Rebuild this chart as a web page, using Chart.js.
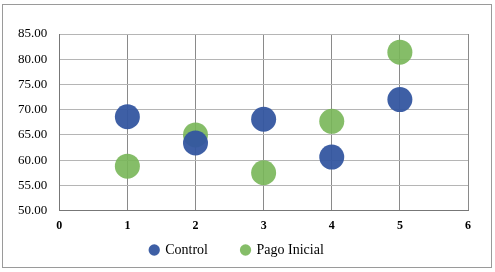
<!DOCTYPE html>
<html>
<head>
<meta charset="utf-8">
<script src="https://cdn.jsdelivr.net/npm/chart.js@4/dist/chart.umd.min.js"></script>
<style>
  html, body { margin: 0; padding: 0; background: #fff; }
  #frame {
    position: absolute; left: 2px; top: 4px;
    width: 490px; height: 264px;
    border: 1px solid #9a9a9a; box-sizing: border-box;
  }
  #chart { display: block; }
</style>
</head>
<body>
<div id="frame"><canvas id="chart" width="488" height="262"></canvas></div>
<script>
// Bubble chart: Control vs Pago Inicial, values per group 1..5

const groups      = [1, 2, 3, 4, 5];
const controlVals = [68.6, 63.4, 68.1, 60.6, 72.0];
const pagoVals    = [58.8, 65.0, 57.5, 67.7, 81.4];
const seriesNames = ['Control', 'Pago Inicial'];

const BLUE  = 'rgba(52, 86, 160, 0.95)';
const GREEN = 'rgba(120, 182, 88, 0.9)';
const FONT  = '"Liberation Serif", "DejaVu Serif", serif';

const toPoints = vals => groups.map((g, i) => ({ x: g, y: vals[i], r: 12.5 }));

new Chart(document.getElementById('chart'), {
  type: 'bubble',
  data: {
    datasets: [
      { label: seriesNames[0], data: toPoints(controlVals), backgroundColor: BLUE,  borderWidth: 0 },
      { label: seriesNames[1], data: toPoints(pagoVals),    backgroundColor: GREEN, borderWidth: 0 }
    ]
  },
  options: {
    responsive: false,
    animation: false,
    layout: { padding: { left: 3, right: 23, top: 29, bottom: 0 } },
    plugins: {
      tooltip: { enabled: false },
      legend: {
        position: 'bottom',
        labels: {
          color: '#000',
          font: { family: FONT, size: 14 },
          usePointStyle: true,
          pointStyle: 'circle',
          boxWidth: 8, boxHeight: 8,
          padding: 2,
          // extra gap between the two entries, like the original
          generateLabels: chart => Chart.defaults.plugins.legend.labels.generateLabels(chart)
            .map((l, i) => ({ ...l, text: i === 0 ? l.text + '         ' : l.text }))
        }
      }
    },
    scales: {
      x: {
        type: 'linear', min: 0, max: 6,
        ticks: { stepSize: 1, autoSkip: false, color: '#000', font: { family: FONT, size: 12, weight: 'bold' }, padding: 8 },
        grid: { color: '#8a8a8a', drawTicks: false },
        border: { color: '#777', width: 1 }
      },
      y: {
        min: 50, max: 85,
        ticks: {
          stepSize: 5, autoSkip: false, color: '#000', padding: 12,
          font: { family: FONT, size: 13 },
          callback: v => v.toFixed(2)
        },
        grid: { color: '#b5b5b5', drawTicks: false },
        border: { color: '#777', width: 1 }
      }
    }
  }
});
</script>
</body>
</html>
